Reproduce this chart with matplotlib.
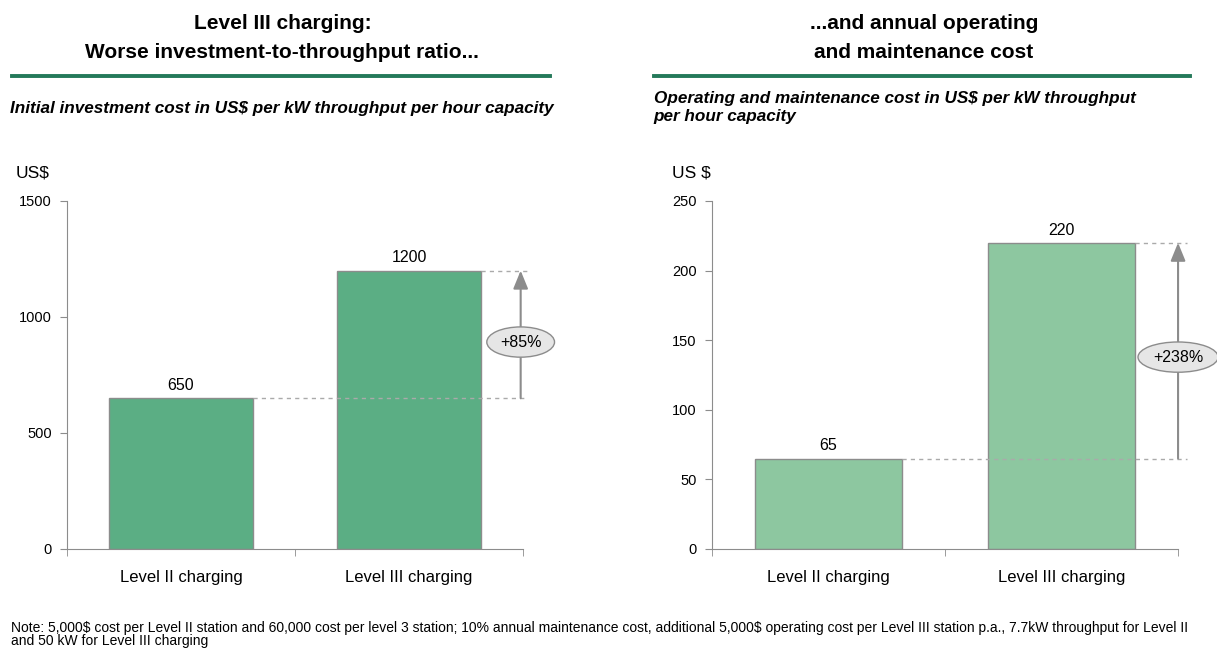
import matplotlib
matplotlib.use("Agg")
import matplotlib.pyplot as plt

plt.rcParams['font.family'] = ['Liberation Sans', 'DejaVu Sans']
plt.rcParams['text.parse_math'] = False

categories = ['Level II charging', 'Level III charging']
invest = [650, 1200]
opex = [65, 220]
invest_pct = '+85%'
opex_pct = '+238%'

green_dark = '#5bae84'
green_light = '#8dc7a0'
rule_green = '#24795a'
grey = '#8c8c8c'

fig = plt.figure(figsize=(12.17, 6.64), dpi=100)


def panel(rect, vals, ymax, ystep, color, unit, unit_x, pct, pct_pos, arrow_x, dash_end):
    ax = fig.add_axes(rect)
    x = range(len(vals))
    ax.bar(x, vals, width=0.63, color=color, edgecolor=grey, linewidth=1)
    for xi, v in zip(x, vals):
        ax.text(xi, v + ymax * 0.015, str(v), ha='center', va='bottom', fontsize=11.5)
    ax.set_xlim(-0.5, 1.5)
    ax.set_ylim(0, ymax)
    ax.set_yticks(range(0, ymax + 1, ystep))
    ax.set_xticks([0, 1])
    ax.set_xticklabels(categories, fontsize=12)
    ax.set_xticks([-0.5, 0.5, 1.5], minor=True)
    ax.tick_params(axis='x', which='major', length=0, pad=15)
    ax.tick_params(axis='x', which='minor', length=5, color=grey, direction='out')
    ax.tick_params(axis='y', length=5, color=grey, labelsize=10.5, pad=6)
    for s in ['top', 'right']:
        ax.spines[s].set_visible(False)
    for s in ['left', 'bottom']:
        ax.spines[s].set_color(grey)
    # dashed reference lines
    ax.plot([0.315, dash_end], [vals[0], vals[0]], ls=(0, (3, 3)), color='#aaaaaa',
            lw=1, clip_on=False, zorder=1)
    ax.plot([1.315, dash_end], [vals[1], vals[1]], ls=(0, (3, 3)), color='#aaaaaa',
            lw=1, clip_on=False, zorder=1)
    ax.annotate('', xy=(arrow_x, vals[1]), xytext=(arrow_x, vals[0]),
                arrowprops=dict(arrowstyle='-|>,head_length=1.1,head_width=0.45',
                                color=grey, lw=1.5, shrinkA=0, shrinkB=0),
                annotation_clip=False)
    ax.text(arrow_x, vals[0] + (vals[1] - vals[0]) * pct_pos, pct, ha='center', va='center',
            fontsize=11.5,
            bbox=dict(boxstyle='ellipse,pad=0.2', fc='#e6e6e6', ec=grey, lw=1),
            clip_on=False, zorder=5)
    fig.text(unit_x, 0.739, unit, fontsize=12.5, ha='left', va='center')
    return ax


panel([0.0551, 0.1732, 0.3746, 0.5241], invest, 1500, 500, green_dark, 'US$', 0.013,
      invest_pct, 0.44, 1.49, 1.52)
panel([0.585, 0.1732, 0.383, 0.5241], opex, 250, 50, green_light, 'US $', 0.552,
      opex_pct, 0.47, 1.5, 1.54)

# titles
fig.text(0.232, 0.943, 'Level III charging:\nWorse investment-to-throughput ratio...',
         ha='center', va='center', fontsize=15, fontweight='bold', linespacing=1.65)
fig.text(0.759, 0.943, '...and annual operating\nand maintenance cost',
         ha='center', va='center', fontsize=15, fontweight='bold', linespacing=1.65)
fig.add_artist(plt.Line2D([0.010, 0.452], [0.886, 0.886], color=rule_green, lw=2.8))
fig.add_artist(plt.Line2D([0.537, 0.978], [0.886, 0.886], color=rule_green, lw=2.8))

fig.text(0.008, 0.836, 'Initial investment cost in US$ per kW throughput per hour capacity',
         fontsize=12.3, fontweight='bold', style='italic', va='center')
fig.text(0.537, 0.838, 'Operating and maintenance cost in US$ per kW throughput\nper hour capacity',
         fontsize=12.3, fontweight='bold', style='italic', va='center', linespacing=1.25)

fig.text(0.009, 0.0444,
         'Note: 5,000$ cost per Level II station and 60,000 cost per level 3 station; 10% annual '
         'maintenance cost, additional 5,000$ operating cost per Level III station p.a., 7.7kW '
         'throughput for Level II\nand 50 kW for Level III charging',
         fontsize=10, va='center', linespacing=0.95)

fig.savefig('out.png', dpi=100)
